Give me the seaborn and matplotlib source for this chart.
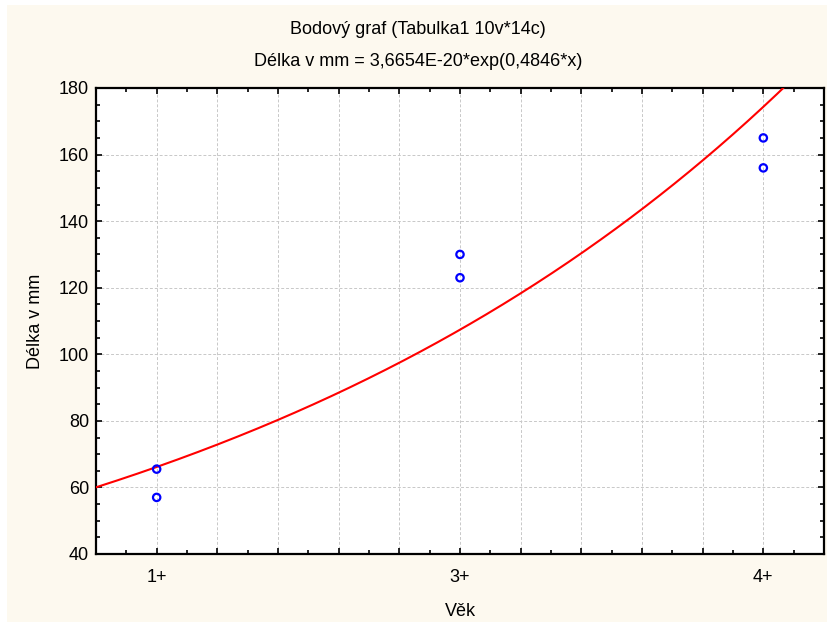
import numpy as np
import pandas as pd
import matplotlib
matplotlib.use("Agg")
import matplotlib.pyplot as plt
from matplotlib.patches import Rectangle
from matplotlib.ticker import MultipleLocator, FuncFormatter
import seaborn as sns

# ---- data ----
age_labels = ["1+", "3+", "4+"]
age_positions = [101.0, 102.0, 103.0]
point_x = [101.0, 101.0, 102.0, 102.0, 103.0, 103.0]
point_y = [65.5, 57.0, 130.0, 123.0, 165.0, 156.0]
fit_a = 3.6654e-20
fit_b = 0.4846
title1 = "Bodový graf (Tabulka1 10v*14c)"
title2 = "Délka v mm = 3,6654E-20*exp(0,4846*x)"

sns.set_theme(style="white")
plt.rcParams['font.family'] = ['Liberation Sans', 'DejaVu Sans']

bg = "#FDF9EF"
fig = plt.figure(figsize=(8.28, 6.22), dpi=100, facecolor=bg)
# white margins (left strip and top strip)
fig.patches.append(Rectangle((0, 0), 7/828, 1, transform=fig.transFigure,
                             facecolor="white", edgecolor="none"))
fig.patches.append(Rectangle((0, 1 - 5/622), 1, 5/622, transform=fig.transFigure,
                             facecolor="white", edgecolor="none"))

ax = fig.add_axes([96/828, (622-554)/622, (824-96)/828, (554-88)/622])
ax.set_facecolor("white")

xmin, xmax = 100.8, 103.2
curve_x = np.linspace(xmin, xmax, 400)
curve_df = pd.DataFrame({"x": curve_x, "y": fit_a * np.exp(fit_b * curve_x)})
pts = pd.DataFrame({"x": point_x, "y": point_y})

sns.lineplot(data=curve_df, x="x", y="y", ax=ax, color="#FF0000", linewidth=1.5, zorder=3)
sns.scatterplot(data=pts, x="x", y="y", ax=ax, marker="o", s=28,
                facecolor="none", edgecolor="#0000FF", linewidth=1.6, zorder=4)

ax.set_xlim(xmin, xmax)
ax.set_ylim(40, 180)

ax.xaxis.set_major_locator(MultipleLocator(0.2))
ax.xaxis.set_minor_locator(MultipleLocator(0.1))
ax.yaxis.set_major_locator(MultipleLocator(20))
ax.yaxis.set_minor_locator(MultipleLocator(5))

def xfmt(v, pos):
    for p, l in zip(age_positions, age_labels):
        if abs(v - p) < 1e-6:
            return l
    return ""
ax.xaxis.set_major_formatter(FuncFormatter(xfmt))

ax.grid(True, which="major", color="#C8C8C8", linestyle=(0, (3, 2)), linewidth=0.7)
ax.tick_params(which="both", direction="in", top=True, right=True, bottom=True, left=True,
               color="black", labelsize=13, labelcolor="black")
ax.tick_params(which="major", length=4, width=1.2)
ax.tick_params(which="minor", length=3, width=1.2)
ax.tick_params(axis="x", which="major", pad=11)
ax.tick_params(axis="y", which="major", pad=5)

for s in ax.spines.values():
    s.set_visible(True)
    s.set_color("black")
    s.set_linewidth(1.6)

ax.set_xlabel("Věk", fontsize=13, color="black", labelpad=12)
ax.set_ylabel("Délka v mm", fontsize=13, color="black", labelpad=11)

fig.text(418/828, 1 - 29/622, title1, ha="center", va="center", fontsize=13, color="black")
fig.text(418/828, 1 - 62/622, title2, ha="center", va="center", fontsize=13, color="black")

fig.savefig("out.png", dpi=100, facecolor=bg)
